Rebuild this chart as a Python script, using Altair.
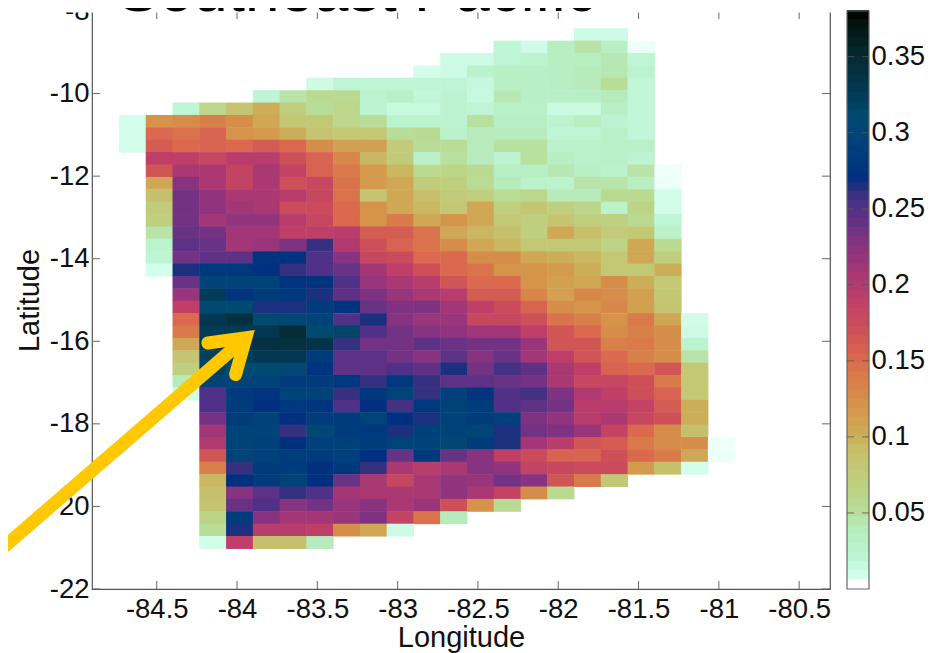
import altair as alt
import pandas as pd

# ---- grid values, thousandths of a unit; each row starts at column ROW_START[r]
ROW_START = [17,14,12,11,7,5,2,0,0,0,1,1,1,1,1,1,1,1,1,1,2,2,2,2,2,2,2,2,2,2,3,3,3,3,3,3,3,3,3,3,3,3]
ROW_VALUES = [
 [12,12],
 [20,12,35,45,35,6],
 [12,12,20,25,35,35,42,20],
 [8,12,25,32,32,35,40,42,25],
 [12,20,20,20,20,20,16,32,32,35,40,50,18],
 [20,45,55,55,25,30,18,22,15,42,32,32,33,40,18],
 [20,60,85,100,70,50,60,22,15,15,22,20,30,30,13,13,32,18],
 [8,120,125,135,125,105,80,80,60,50,25,25,24,48,32,32,22,35,22,18],
 [8,150,145,155,120,115,100,85,80,80,50,55,28,38,38,38,20,20,30,18],
 [8,160,150,155,150,160,150,125,110,110,75,50,50,38,48,48,28,28,30,30],
 [190,190,180,195,195,170,155,130,95,75,30,48,38,22,48,35,28,30,22],
 [165,205,205,185,205,185,155,140,115,95,55,62,55,32,32,42,33,28,45,6],
 [105,225,205,185,205,170,180,145,115,105,75,70,52,40,28,25,45,45,35,6],
 [90,235,220,205,205,195,180,145,85,105,90,75,70,52,60,40,40,55,55,10],
 [75,235,220,210,205,175,175,150,120,105,95,80,105,70,85,70,60,28,65,10],
 [70,235,210,220,220,195,180,150,120,140,105,120,105,80,70,85,70,68,55,20],
 [45,240,235,210,210,190,190,195,160,160,145,105,95,90,70,105,90,75,80,28],
 [25,245,240,210,215,230,260,200,170,155,145,125,105,95,80,80,80,65,105,55],
 [20,235,245,245,275,275,250,225,180,175,150,150,125,125,105,100,95,80,105,70],
 [8,265,280,280,270,260,250,240,210,190,170,150,145,120,120,115,100,80,80,100],
 [240,295,295,295,275,275,250,215,205,195,165,150,150,120,110,105,125,100,80],
 [215,325,275,285,280,265,245,230,215,205,195,160,160,130,110,130,125,110,80],
 [190,310,310,265,265,285,275,240,230,230,210,190,175,155,125,120,130,110,85],
 [150,330,340,310,305,295,250,265,225,215,215,180,180,170,145,135,120,140,105,10],
 [140,325,325,330,345,310,315,250,235,225,220,210,210,190,165,150,125,135,125,12],
 [105,325,325,340,340,335,260,235,235,245,240,235,235,215,165,165,135,140,125,25],
 [85,320,320,330,330,285,245,245,235,225,245,225,240,210,190,165,150,135,125,45],
 [70,320,310,310,305,275,245,245,250,245,265,235,255,245,205,190,155,150,165,80],
 [40,295,295,295,285,285,280,260,280,260,245,245,240,235,205,180,180,170,140,80],
 [10,250,285,275,295,295,260,280,295,260,290,275,250,255,230,200,190,170,155,80],
 [250,285,270,280,275,250,270,255,280,295,285,250,245,235,195,195,185,160,100],
 [235,285,295,270,285,285,295,270,265,295,285,290,230,220,195,205,180,170,100],
 [210,295,295,260,305,285,280,265,290,295,300,265,235,230,215,185,150,125,90],
 [200,295,290,270,290,290,285,295,295,305,285,265,210,195,165,160,140,125,125,6],
 [165,295,290,285,285,290,270,240,280,240,225,190,175,155,155,170,150,140,105,6],
 [135,260,285,285,270,280,260,205,195,205,225,220,185,180,175,175,115,90,8],
 [95,270,285,295,270,240,205,180,205,220,215,235,225,165,140,80],
 [90,225,245,260,250,210,205,205,205,220,205,185,125,55],
 [85,240,250,225,235,215,225,205,215,170,120,55],
 [65,285,225,210,210,215,230,185,145,40],
 [50,265,195,195,190,125,105,12],
 [10,190,90,90,40],
]
LON_WEST = -84.735
LON_STEP = 1 / 6
LAT_NORTH = -8.418
LAT_STEP = 0.3
LON_OVERLAP = 0.003   # hides hairline seams between neighbouring cells
LAT_OVERLAP = 0.012

COLOR_STOPS = [0, 0.0059, 0.0061, 0.02, 0.04, 0.05, 0.07, 0.09, 0.10, 0.12, 0.14, 0.15, 0.17,
               0.19, 0.21, 0.23, 0.25, 0.26, 0.27, 0.29, 0.31, 0.33, 0.35, 0.37, 0.38]
COLOR_HEX = ["#ffffff", "#ffffff", "#d8fff0", "#bdf5d5", "#b7ebbb", "#b8dd98", "#bfcf7e", "#c6c06c",
             "#ccae58", "#d6934a", "#d97a4a", "#da694e", "#cd5058", "#bf3f68", "#a23677", "#7f3282",
             "#503187", "#35307f", "#00307f", "#00407b", "#004a70", "#033650", "#042a30", "#03150f",
             "#000000"]

X_TICKS = [-84.5, -84, -83.5, -83, -82.5, -82, -81.5, -81, -80.5]
Y_TICKS = [-22, -20, -18, -16, -14, -12, -10, -8]
BAR_TICKS = [0.05, 0.1, 0.15, 0.2, 0.25, 0.3, 0.35]
BAR_LEVELS = 64
BAR_MAX = 0.38

X_DOMAIN = [-84.903, -80.308]
Y_DOMAIN = [-22, -8]

TITLE_TEXT = ["Southeast Pacific"]
TITLE_LON = [-84.744]
TITLE_LAT = [-7.99]

SHAFT_LON = [-85.491, -83.945]
SHAFT_LAT = [-21.115, -15.915]
HEAD_LON = [-84.182, -83.945, -84.009]
HEAD_LAT = [-16.041, -15.915, -16.804]

FONT = "Liberation Sans"
W, H = 738, 578

cells = []
for r, (start, vals) in enumerate(zip(ROW_START, ROW_VALUES)):
    for i, v in enumerate(vals):
        k = start + i
        cells.append(dict(
            x=LON_WEST + k * LON_STEP, x2=LON_WEST + (k + 1) * LON_STEP + LON_OVERLAP,
            y=LAT_NORTH - r * LAT_STEP, y2=LAT_NORTH - (r + 1) * LAT_STEP - LAT_OVERLAP,
            v=v / 1000))
cells = pd.DataFrame(cells)

color_scale = alt.Scale(domain=COLOR_STOPS, range=COLOR_HEX, interpolate="rgb", clamp=True)
xs = alt.Scale(domain=X_DOMAIN, nice=False, zero=False)
ys = alt.Scale(domain=Y_DOMAIN, nice=False, zero=False)
bs = alt.Scale(domain=[0, BAR_MAX], nice=False, zero=True)

x_axis = alt.Axis(
    values=X_TICKS, title="Longitude", grid=False, ticks=False, domain=False,
    labelExpr="'' + datum.value", labelFont=FONT, labelFontSize=27.5, labelColor="#111111",
    labelPadding=6, labelFlush=False, labelOverlap=False,
    titleFont=FONT, titleFontSize=29, titleFontWeight="normal", titleColor="#111111", titlePadding=1)
y_axis = alt.Axis(
    values=Y_TICKS, title="Latitude", grid=False, ticks=False, domain=False,
    labelExpr="'' + datum.value", labelFont=FONT, labelFontSize=27.5, labelColor="#111111",
    labelPadding=3, labelFlush=False, labelOverlap=False,
    titleFont=FONT, titleFontSize=29, titleFontWeight="normal", titleColor="#111111", titlePadding=5)
bar_axis = alt.Axis(
    orient="right", values=BAR_TICKS, offset=40, title=None, grid=False, ticks=False, domain=False,
    labelExpr="'' + datum.value", labelFont=FONT, labelFontSize=27.5, labelColor="#111111",
    labelPadding=1, labelFlush=False, labelOverlap=False)
X = lambda f: alt.X(f, scale=xs, axis=x_axis)
Y = lambda f: alt.Y(f, scale=ys, axis=y_axis)
B = lambda f: alt.Y(f, scale=bs, axis=bar_axis)

heat = alt.Chart(cells).mark_rect(strokeWidth=0).encode(
    x=X("x:Q"), x2="x2:Q", y=Y("y:Q"), y2="y2:Q",
    color=alt.Color("v:Q", scale=color_scale, legend=None),
)

x_df = pd.DataFrame({"x": X_TICKS})
y_df = pd.DataFrame({"y": Y_TICKS})
TICK = "#666666"
xt_bot = alt.Chart(x_df).mark_rule(color=TICK, strokeWidth=1).encode(
    x=X("x:Q"), y=alt.value(H), y2=alt.value(H - 8))
xt_top = alt.Chart(x_df).mark_rule(color=TICK, strokeWidth=1).encode(
    x=X("x:Q"), y=alt.value(0), y2=alt.value(8))
yt_l = alt.Chart(y_df).mark_rule(color=TICK, strokeWidth=1).encode(
    y=Y("y:Q"), x=alt.value(0), x2=alt.value(8))
yt_r = alt.Chart(y_df).mark_rule(color=TICK, strokeWidth=1).encode(
    y=Y("y:Q"), x=alt.value(W - 8), x2=alt.value(W))

mask = alt.Chart(pd.DataFrame({"a": [-7.7], "b": [-8.035]})).mark_rect(color="white", clip=False).encode(
    y=Y("a:Q"), y2="b:Q", x=alt.value(-70), x2=alt.value(W + 6))

title = alt.Chart(pd.DataFrame({"t": TITLE_TEXT, "x": TITLE_LON, "y": TITLE_LAT})).mark_text(
    font=FONT, fontSize=62, align="left", baseline="alphabetic", color="black", clip=False
).encode(x=X("x:Q"), y=Y("y:Q"), text="t:N")

ARROW = "#FFC800"
shaft = alt.Chart(pd.DataFrame({"x": SHAFT_LON, "y": SHAFT_LAT, "o": range(len(SHAFT_LON))})).mark_line(
    color=ARROW, strokeWidth=13, strokeCap="butt", clip=False
).encode(x=X("x:Q"), y=Y("y:Q"), order="o:Q")
head = alt.Chart(pd.DataFrame({"x": HEAD_LON, "y": HEAD_LAT, "o": range(len(HEAD_LON))})).mark_line(
    color=ARROW, strokeWidth=13, strokeCap="round", strokeJoin="miter", clip=False
).encode(x=X("x:Q"), y=Y("y:Q"), order="o:Q")

left = alt.layer(heat, xt_bot, xt_top, yt_l, yt_r, mask, title, shaft, head)

# ---- colour bar on its own y scale
levels = pd.DataFrame({"i": list(range(BAR_LEVELS))})
levels["a"] = levels["i"] * BAR_MAX / BAR_LEVELS
levels["b"] = (levels["i"] + 1.1) * BAR_MAX / BAR_LEVELS
levels["v"] = (levels["i"] + 0.5) * BAR_MAX / BAR_LEVELS
BX0, BX1 = 755, 777
bar = alt.Chart(levels.iloc[::-1]).mark_rect(strokeWidth=0, clip=False).encode(
    y=B("a:Q"), y2="b:Q",
    x=alt.value(BX0), x2=alt.value(BX1),
    color=alt.Color("v:Q", scale=color_scale, legend=None),
)
frame = alt.Chart(pd.DataFrame({"a": [0], "b": [BAR_MAX]})).mark_rect(
    fillOpacity=0, stroke="#666666", strokeWidth=1.2, clip=False
).encode(y=B("a:Q"), y2="b:Q", x=alt.value(BX0), x2=alt.value(BX1))
b_df = pd.DataFrame({"y": BAR_TICKS})
bt_l = alt.Chart(b_df).mark_rule(color="#555555", strokeWidth=1, strokeOpacity=0.8, clip=False).encode(
    y=B("y:Q"), x=alt.value(BX0), x2=alt.value(BX0 + 7))
bt_r = alt.Chart(b_df).mark_rule(color="#555555", strokeWidth=1, strokeOpacity=0.8, clip=False).encode(
    y=B("y:Q"), x=alt.value(BX1 - 7), x2=alt.value(BX1))
right = alt.layer(bar, frame, bt_l, bt_r)

chart = alt.layer(left, right).resolve_scale(y="independent").properties(
    width=W, height=H,
    padding={"left": 84, "top": 3, "right": 100, "bottom": 64},
    autosize=alt.AutoSizeParams(type="none"),
    background="white",
).configure_view(stroke="#555555", strokeWidth=1.2)

chart.save("out.html", embed_options={"renderer": "svg", "actions": False})
